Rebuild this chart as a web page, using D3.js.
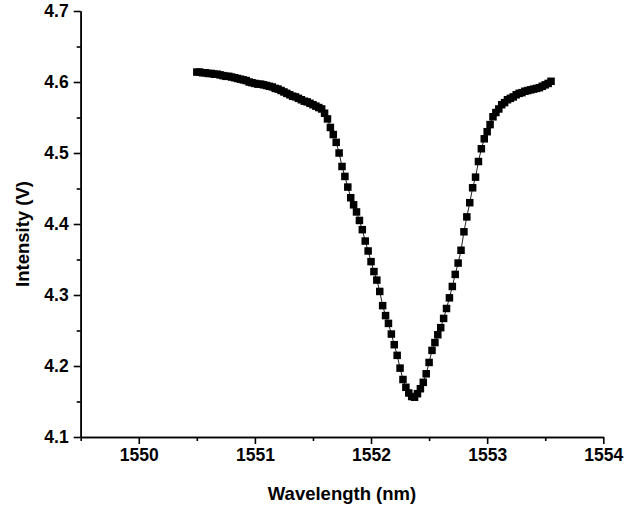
<!DOCTYPE html>
<html>
<head>
<meta charset="utf-8">
<script src="https://cdn.jsdelivr.net/npm/d3@7"></script>
<style>
  html, body { margin: 0; padding: 0; background: #fff; }
  svg { display: block; }
  text { font-family: "Liberation Sans", Arial, sans-serif; font-weight: bold; fill: #000; }
</style>
</head>
<body>
<svg id="chart" width="624" height="510"></svg>
<script>
// Transmission dip: measured wavelength (nm) and detector intensity (V)
const wavelength = [
  1550.500, 1550.525, 1550.550, 1550.575, 1550.600, 1550.625, 1550.650, 1550.675, 1550.700, 1550.725,
  1550.750, 1550.775, 1550.800, 1550.825, 1550.850, 1550.875, 1550.900, 1550.925, 1550.950, 1550.975,
  1551.000, 1551.025, 1551.050, 1551.075, 1551.100, 1551.125, 1551.150, 1551.175, 1551.200, 1551.225,
  1551.250, 1551.275, 1551.300, 1551.325, 1551.350, 1551.375, 1551.400, 1551.425, 1551.450, 1551.475,
  1551.500, 1551.525, 1551.550, 1551.575, 1551.600, 1551.625, 1551.650, 1551.675, 1551.700, 1551.725,
  1551.750, 1551.775, 1551.800, 1551.825, 1551.850, 1551.875, 1551.900, 1551.925, 1551.950, 1551.975,
  1552.000, 1552.025, 1552.050, 1552.075, 1552.100, 1552.125, 1552.150, 1552.175, 1552.200, 1552.225,
  1552.250, 1552.275, 1552.300, 1552.325, 1552.350, 1552.375, 1552.400, 1552.425, 1552.450, 1552.475,
  1552.500, 1552.525, 1552.550, 1552.575, 1552.600, 1552.625, 1552.650, 1552.675, 1552.700, 1552.725,
  1552.750, 1552.775, 1552.800, 1552.825, 1552.850, 1552.875, 1552.900, 1552.925, 1552.950, 1552.975,
  1553.000, 1553.025, 1553.050, 1553.075, 1553.100, 1553.125, 1553.150, 1553.175, 1553.200, 1553.225,
  1553.250, 1553.275, 1553.300, 1553.325, 1553.350, 1553.375, 1553.400, 1553.425, 1553.450, 1553.475,
  1553.500, 1553.525, 1553.550
];
const intensity = [
  4.614, 4.614, 4.613, 4.613, 4.612, 4.612, 4.611, 4.611, 4.610, 4.609,
  4.608, 4.608, 4.607, 4.606, 4.605, 4.604, 4.603, 4.602, 4.600, 4.599,
  4.598, 4.597, 4.597, 4.596, 4.595, 4.594, 4.593, 4.591, 4.590, 4.588,
  4.586, 4.584, 4.582, 4.580, 4.579, 4.577, 4.575, 4.573, 4.572, 4.570,
  4.568, 4.566, 4.564, 4.562, 4.556, 4.548, 4.536, 4.526, 4.515, 4.500,
  4.481, 4.467, 4.452, 4.437, 4.427, 4.417, 4.405, 4.392, 4.376, 4.362,
  4.347, 4.333, 4.321, 4.305, 4.285, 4.271, 4.260, 4.245, 4.230, 4.215,
  4.197, 4.181, 4.170, 4.162, 4.157, 4.156, 4.161, 4.168, 4.177, 4.189,
  4.205, 4.222, 4.233, 4.244, 4.254, 4.267, 4.281, 4.296, 4.312, 4.329,
  4.345, 4.363, 4.389, 4.410, 4.430, 4.451, 4.466, 4.488, 4.506, 4.520,
  4.530, 4.540, 4.551, 4.557, 4.562, 4.568, 4.571, 4.575, 4.577, 4.579,
  4.582, 4.584, 4.585, 4.587, 4.588, 4.589, 4.590, 4.591, 4.592, 4.594,
  4.596, 4.598, 4.601
];

const xDomain = [1549.5, 1554];
const yDomain = [4.1, 4.7];
const xMajorTicks = [1550, 1551, 1552, 1553, 1554];
const xMinorTicks = [1549.5, 1550.5, 1551.5, 1552.5, 1553.5];
const yMajorTicks = [4.1, 4.2, 4.3, 4.4, 4.5, 4.6, 4.7];
const yMinorTicks = [4.15, 4.25, 4.35, 4.45, 4.55, 4.65];
const xTitle = "Wavelength (nm)";
const yTitle = "Intensity (V)";

const svg = d3.select("#chart");
const plotLeft = 80.7, plotRight = 603.3, plotTop = 11, plotBottom = 437;

const x = d3.scaleLinear().domain(xDomain).range([plotLeft, plotRight]);
const y = d3.scaleLinear().domain(yDomain).range([plotBottom, plotTop]);

const points = wavelength.map((w, i) => ({ w, v: intensity[i] }));

// thin connecting line behind the markers
svg.append("path")
  .datum(points)
  .attr("fill", "none")
  .attr("stroke", "#222")
  .attr("stroke-width", 1)
  .attr("d", d3.line().x(d => x(d.w)).y(d => y(d.v)));

// square markers
const ms = 7.5;
svg.append("g").selectAll("rect")
  .data(points)
  .join("rect")
  .attr("x", d => x(d.w) - ms / 2)
  .attr("y", d => y(d.v) - ms / 2)
  .attr("width", ms)
  .attr("height", ms)
  .attr("fill", "#000");

// x axis: major ticks with labels, minor ticks without
const xAxis = svg.append("g").attr("transform", `translate(0,${plotBottom})`);
xAxis.call(d3.axisBottom(x).tickValues(xMajorTicks).tickFormat(d3.format("d")).tickSize(7).tickPadding(5).tickSizeOuter(0));
xAxis.append("g").call(d3.axisBottom(x).tickValues(xMinorTicks).tickFormat("").tickSize(4).tickSizeOuter(0));

// y axis
const yAxis = svg.append("g").attr("transform", `translate(${plotLeft},0)`);
yAxis.call(d3.axisLeft(y).tickValues(yMajorTicks).tickFormat(d3.format(".1f")).tickSize(7).tickPadding(5).tickSizeOuter(0));
yAxis.append("g").call(d3.axisLeft(y).tickValues(yMinorTicks).tickFormat("").tickSize(4).tickSizeOuter(0));

svg.selectAll(".domain").attr("stroke", "#000").attr("stroke-width", 1.6);
svg.selectAll(".tick line").attr("stroke", "#000").attr("stroke-width", 1.6);
svg.selectAll(".tick text")
  .attr("font-family", "Liberation Sans, Arial, sans-serif")
  .attr("font-weight", "bold")
  .attr("font-size", 17.5)
  .attr("fill", "#000");

// axis titles
svg.append("text")
  .attr("x", 342)
  .attr("y", 500)
  .attr("text-anchor", "middle")
  .attr("font-size", 18.5)
  .text(xTitle);

svg.append("text")
  .attr("transform", `translate(29,234) rotate(-90)`)
  .attr("text-anchor", "middle")
  .attr("font-size", 18.5)
  .text(yTitle);
</script>
</body>
</html>
